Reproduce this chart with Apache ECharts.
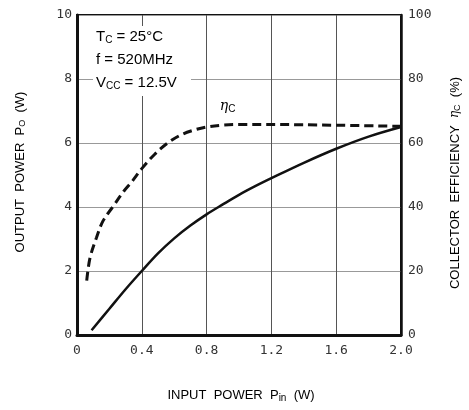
<!DOCTYPE html>
<html><head><meta charset="utf-8">
<script src="https://cdn.jsdelivr.net/npm/echarts@6/dist/echarts.min.js"></script>
<style>html,body{margin:0;padding:0;background:#fff}#c{width:469px;height:410px}</style>
</head><body><div id="c"></div>
<script>
// Output power Po (W) vs input power Pin (W)
var pinPo = [0.09, 0.2, 0.3, 0.4, 0.5, 0.6, 0.7, 0.8, 0.9, 1.0, 1.1, 1.2, 1.4, 1.6, 1.8, 2.0];
var po    = [0.15, 0.82, 1.43, 2.0, 2.55, 3.02, 3.42, 3.77, 4.08, 4.38, 4.65, 4.9, 5.38, 5.82, 6.2, 6.5];
// Collector efficiency (%) vs input power Pin (W)
var pinEff = [0.06, 0.08, 0.12, 0.16, 0.22, 0.29, 0.34, 0.4, 0.48, 0.56, 0.64, 0.72, 0.8, 0.9, 1.0, 1.4, 2.0];
var eff    = [17, 24, 30.4, 35.6, 40, 45, 48, 52, 56.5, 60, 62.5, 64, 65, 65.6, 65.8, 65.7, 65.2];
var xTickLabels = ['0', '0.4', '0.8', '1.2', '1.6', '2.0'];
var leftTickLabels = ['0', '2', '4', '6', '8', '10'];
var rightTickLabels = ['0', '20', '40', '60', '80', '100'];

function pairs(xs, ys) { return xs.map(function (x, i) { return [x, ys[i]]; }); }

var tickFont = { fontFamily: 'DejaVu Sans Mono', fontSize: 13, color: '#333' };
var titleFont = 'Liberation Sans';

var chart = echarts.init(document.getElementById('c'), null, { renderer: 'canvas' });
chart.setOption({
  animation: false,
  backgroundColor: '#fff',
  grid: { left: 77, right: 68, top: 15, bottom: 75, show: true, borderColor: '#111', borderWidth: 2, backgroundColor: 'transparent' },
  xAxis: {
    type: 'value', min: 0, max: 2.0, interval: 0.4,
    axisLine: { show: true, lineStyle: { color: '#111', width: 3 } },
    axisTick: { show: false },
    splitLine: { show: true, lineStyle: { color: '#555', width: 1 } },
    axisLabel: Object.assign({ margin: 9, formatter: function (v) { return xTickLabels[Math.round(v / 0.4)]; } }, tickFont)
  },
  yAxis: [{
    type: 'value', min: 0, max: 10, interval: 2, position: 'left',
    axisLine: { show: true, lineStyle: { color: '#111', width: 3 } },
    axisTick: { show: false },
    splitLine: { show: true, lineStyle: { color: '#999', width: 1 } },
    axisLabel: Object.assign({ margin: 5, formatter: function (v) { return leftTickLabels[Math.round(v / 2)]; } }, tickFont)
  }, {
    type: 'value', min: 0, max: 100, interval: 20, position: 'right',
    axisLine: { show: true, lineStyle: { color: '#111', width: 2.5 } },
    axisTick: { show: false },
    splitLine: { show: false },
    axisLabel: Object.assign({ margin: 7, formatter: function (v) { return rightTickLabels[Math.round(v / 20)]; } }, tickFont)
  }],
  series: [{
    type: 'line', name: 'Po', yAxisIndex: 0, data: pairs(pinPo, po), smooth: 0.35,
    showSymbol: false, lineStyle: { color: '#111', width: 2.5 }, z: 5
  }, {
    type: 'line', name: 'ηC', yAxisIndex: 1, data: pairs(pinEff, eff), smooth: 0.35,
    showSymbol: false, lineStyle: { color: '#111', width: 3, type: [9, 5] }, z: 5
  }]
});

var etaPos = chart.convertToPixel({ xAxisIndex: 0, yAxisIndex: 1 }, [0.93, 71.5]);
var subRich = {
  n: { fontFamily: titleFont, fontSize: 15, color: '#222' },
  s: { fontFamily: titleFont, fontSize: 10, color: '#222', padding: [7, 0, 0, 0] }
};
chart.setOption({
  graphic: [
    { type: 'rect', left: 93, top: 26, shape: { width: 98, height: 70 }, style: { fill: '#fff' }, z: 10 },
    { type: 'text', left: 96, top: 29, z: 11, style: { text: '{n|T}{s|C}{n| = 25°C}', rich: subRich } },
    { type: 'text', left: 96, top: 52, z: 11, style: { text: '{n|f = 520MHz}', rich: subRich } },
    { type: 'text', left: 96, top: 75, z: 11, style: { text: '{n|V}{s|CC}{n| = 12.5V}', rich: subRich } },
    { type: 'text', x: etaPos[0], y: etaPos[1], z: 11, style: {
        text: '{e|η}{s|C}', align: 'center', verticalAlign: 'middle',
        rich: { e: { fontFamily: 'DejaVu Serif', fontStyle: 'italic', fontSize: 14, color: '#222' },
                s: { fontFamily: titleFont, fontSize: 10, color: '#222', padding: [6, 0, 0, 0] } } } },
    { type: 'text', x: 20, y: 172, rotation: Math.PI / 2, z: 11, style: {
        text: '{n|OUTPUT  POWER  P}{s|O}{n|  (W)}', align: 'center', verticalAlign: 'middle',
        rich: { n: { fontFamily: titleFont, fontSize: 13, color: '#333' }, s: { fontFamily: titleFont, fontSize: 9, color: '#333', padding: [6, 0, 0, 0] } } } },
    { type: 'text', x: 455, y: 183, rotation: Math.PI / 2, z: 11, style: {
        text: '{n|COLLECTOR  EFFICIENCY  }{e|η}{s|C}{n|  (%)}', align: 'center', verticalAlign: 'middle',
        rich: { n: { fontFamily: titleFont, fontSize: 13, color: '#333' }, e: { fontFamily: 'DejaVu Serif', fontStyle: 'italic', fontSize: 12, color: '#333' }, s: { fontFamily: titleFont, fontSize: 9, color: '#333', padding: [6, 0, 0, 0] } } } },
    { type: 'text', x: 241, y: 395, z: 11, style: {
        text: '{n|INPUT  POWER  P}{s|in}{n|  (W)}', align: 'center', verticalAlign: 'middle',
        rich: { n: { fontFamily: titleFont, fontSize: 13, color: '#333' }, s: { fontFamily: titleFont, fontSize: 10, color: '#333', padding: [7, 0, 0, 0] } } } }
  ]
});
</script></body></html>
